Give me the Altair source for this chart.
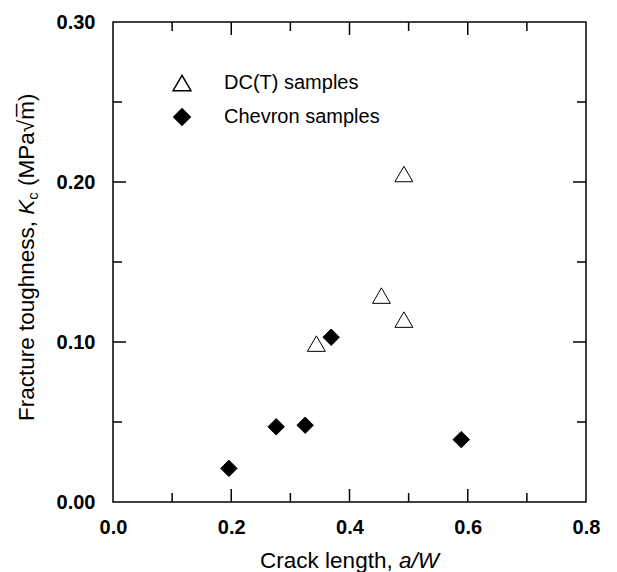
import altair as alt
import pandas as pd

# ---- data ----
series = ["DC(T) samples", "Chevron samples"]
dct_x = [0.344, 0.454, 0.492, 0.492]
dct_y = [0.099, 0.129, 0.114, 0.205]
chev_x = [0.196, 0.276, 0.325, 0.369, 0.589]
chev_y = [0.021, 0.047, 0.048, 0.103, 0.039]

x_labels = [0.0, 0.2, 0.4, 0.6, 0.8]
y_labels = [0.0, 0.1, 0.2, 0.3]
x_major = [0.2, 0.4, 0.6]
x_minor = [0.1, 0.3, 0.5, 0.7]
y_major = [0.1, 0.2]
y_minor = [0.05, 0.15, 0.25]

x_title_parts = ["Crack length,", "a/W"]
y_title_parts = ["Fracture toughness,", "K", "c", "(MPa\u221am\u0305)"]

# ---- layout ----
W, H = 473, 480
FONT = "Liberation Sans"
TS = 22.5  # title font size
MAJ, MIN = 13, 9

pts = pd.DataFrame({
    "a": dct_x + chev_x,
    "k": dct_y + chev_y,
    "s": [series[0]] * len(dct_x) + [series[1]] * len(chev_x),
})

xs = alt.Scale(domain=[0, 0.8], nice=False, zero=False)
ys = alt.Scale(domain=[0, 0.3], nice=False, zero=False)

ax_x = alt.Axis(
    values=x_labels, format=".1f", ticks=False, tickSize=0, domain=False, grid=False,
    labelFont=FONT, labelFontSize=20, labelFontWeight="bold", labelColor="black",
    labelPadding=15, labelFlush=False, title=None)
ax_y = alt.Axis(
    values=y_labels, format=".2f", ticks=False, tickSize=0, domain=False, grid=False,
    labelFont=FONT, labelFontSize=20, labelFontWeight="bold", labelColor="black",
    labelPadding=18, labelFlush=False, title=None)

leg = alt.Legend(
    title=None, orient="none", legendX=59, legendY=51, padding=0,
    labelFont=FONT, labelFontSize=20, labelColor="black",
    labelOffset=32, rowPadding=11,
)

points = alt.Chart(pts).mark_point(filled=True, strokeWidth=1, opacity=1, strokeOpacity=1).encode(
    x=alt.X("a:Q", scale=xs, axis=ax_x),
    y=alt.Y("k:Q", scale=ys, axis=ax_y),
    shape=alt.Shape("s:N", scale=alt.Scale(domain=series, range=["triangle-up", "diamond"]), legend=leg),
    fill=alt.Fill("s:N", scale=alt.Scale(domain=series, range=["white", "black"]), legend=leg),
    stroke=alt.Stroke("s:N", scale=alt.Scale(domain=series, range=["black", "black"]), legend=leg),
    size=alt.Size("s:N", scale=alt.Scale(domain=series, range=[320, 270]), legend=leg),
)

def yticks(vals, length):
    df = pd.DataFrame({"k": vals})
    base = alt.Chart(df).mark_rule(color="black", strokeWidth=1.5)
    left = base.encode(y=alt.Y("k:Q", scale=ys, axis=ax_y), x=alt.value(0), x2=alt.value(length))
    right = base.encode(y=alt.Y("k:Q", scale=ys, axis=ax_y), x=alt.value(W), x2=alt.value(W - length))
    return [left, right]

def xticks(vals, length):
    df = pd.DataFrame({"a": vals})
    base = alt.Chart(df).mark_rule(color="black", strokeWidth=1.5)
    bottom = base.encode(x=alt.X("a:Q", scale=xs, axis=ax_x), y=alt.value(H), y2=alt.value(H - length))
    top = base.encode(x=alt.X("a:Q", scale=xs, axis=ax_x), y=alt.value(0), y2=alt.value(length))
    return [bottom, top]

ticks = yticks(y_major, MAJ) + yticks(y_minor, MIN) + xticks(x_major, MAJ) + xticks(x_minor, MIN)

def txt(s, x, y, size=TS, italic=False, angle=0, align="left"):
    kw = dict(font=FONT, fontSize=size, color="black", align=align, baseline="alphabetic")
    if italic:
        kw["fontStyle"] = "italic"
    if angle:
        kw["angle"] = angle
    return alt.Chart(pd.DataFrame({"t": [s]})).mark_text(**kw).encode(
        x=alt.value(x), y=alt.value(y), text="t:N")

# x title: "Crack length, a/W" (centred under the plot)
w_crack = 6.169 * TS
w_aw = 1.778 * TS
xt0 = W / 2 - (w_crack + w_aw) / 2
xbase = 546
x_title = [txt(x_title_parts[0], xt0, xbase), txt(x_title_parts[1], xt0 + w_crack, xbase, italic=True)]

# y title: "Fracture toughness, K_c (MPa√m)" rotated
ybase = -79.5
y0 = 399
w1 = 9.171 * TS
wK = 0.667 * TS
sub = 15
wc = 0.5 * sub
wsp = 0.278 * TS
y_title = [
    txt(y_title_parts[0], ybase, y0, angle=270),
    txt(y_title_parts[1], ybase, y0 - w1, italic=True, angle=270),
    txt(y_title_parts[2], ybase + 4.5, y0 - w1 - wK, size=sub, angle=270),
    txt(y_title_parts[3], ybase, y0 - w1 - wK - wc - wsp, angle=270),
]

chart = alt.layer(points, *ticks, *x_title, *y_title).properties(
    width=W, height=H,
    padding={"left": 113, "top": 22, "right": 31, "bottom": 70},
    autosize=alt.AutoSizeParams(type="none"),
    background="white",
).configure_view(stroke="black", strokeWidth=1.5)

chart.save("out.html", embed_options={"renderer": "svg", "actions": False})
